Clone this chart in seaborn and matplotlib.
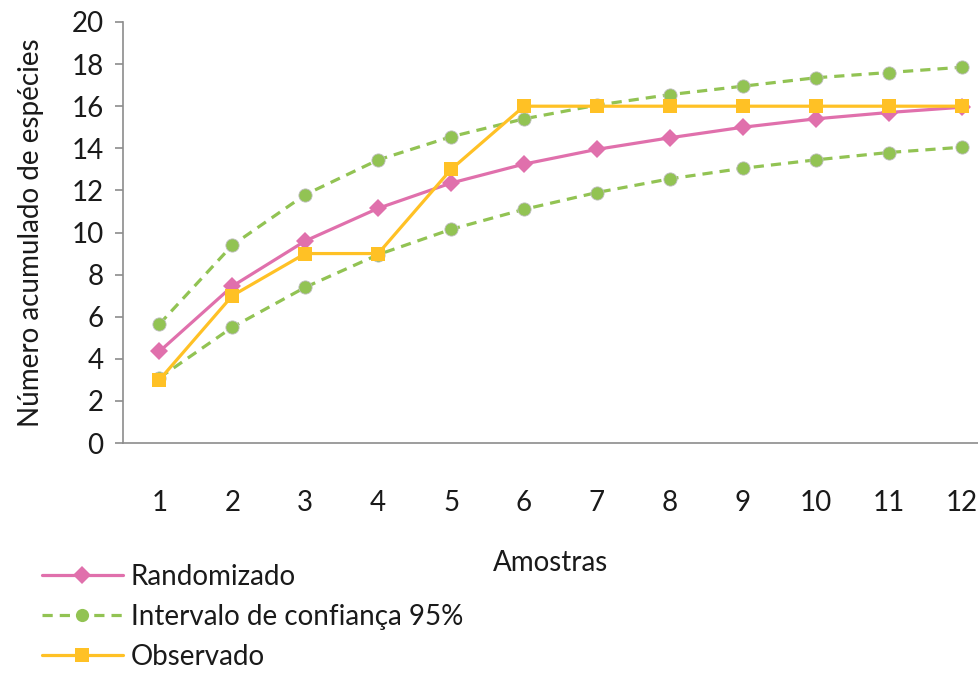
import matplotlib
matplotlib.use("Agg")
import matplotlib.pyplot as plt
import seaborn as sns
import pandas as pd
from matplotlib.lines import Line2D

amostras = [1, 2, 3, 4, 5, 6, 7, 8, 9, 10, 11, 12]
randomizado = [4.35, 7.45, 9.6, 11.15, 12.35, 13.25, 13.95, 14.5, 15.0, 15.4, 15.7, 15.95]
ic_superior = [5.65, 9.4, 11.8, 13.45, 14.55, 15.4, 16.05, 16.55, 16.95, 17.35, 17.6, 17.85]
ic_inferior = [3.1, 5.5, 7.4, 8.95, 10.15, 11.1, 11.9, 12.55, 13.05, 13.45, 13.8, 14.05]
observado = [3, 7, 9, 9, 13, 16, 16, 16, 16, 16, 16, 16]
y_ticks = [0, 2, 4, 6, 8, 10, 12, 14, 16, 18, 20]

PINK = "#E070AC"
GREEN = "#92C353"
GOLD = "#FFC125"
AXIS = "#8C8C8C"
TEXT = "#1A1A1A"
FS = 20

sns.set_theme(style="white")
plt.rcParams["font.family"] = ["Lato", "DejaVu Sans"]

fig = plt.figure(figsize=(9.79, 6.78), dpi=100)
ax = fig.add_axes([123 / 979, 1 - 443 / 678, 1 - 123 / 979, (443 - 22) / 678])

df = pd.DataFrame({"x": amostras, "rand": randomizado, "sup": ic_superior,
                   "inf": ic_inferior, "obs": observado})

for col in ["sup", "inf"]:
    sns.lineplot(data=df, x="x", y=col, ax=ax, color=GREEN, linewidth=2.3,
                 linestyle=(0, (3.2, 2.2)), marker="o", markersize=9.5,
                 markeredgewidth=0.6, markeredgecolor="#BDBDBD", zorder=2)
sns.lineplot(data=df, x="x", y="rand", ax=ax, color=PINK, linewidth=2.3,
             marker="D", markersize=9, markeredgewidth=0, zorder=3)
sns.lineplot(data=df, x="x", y="obs", ax=ax, color=GOLD, linewidth=2.3,
             marker="s", markersize=10, markeredgewidth=0, zorder=4)

ax.set_xlim(0.5, 12.24)
ax.set_ylim(0, 20)
ax.set_xticks(amostras)
ax.set_xticklabels([str(a) for a in amostras])
ax.set_yticks(y_ticks)
ax.set_yticklabels([str(t) for t in y_ticks])

for s in ["top", "right"]:
    ax.spines[s].set_visible(False)
for s in ["left", "bottom"]:
    ax.spines[s].set_color(AXIS)
    ax.spines[s].set_linewidth(1.2)

ax.tick_params(axis="y", which="both", left=True, length=6, width=1.2,
               color=AXIS, labelsize=FS, labelcolor=TEXT, pad=8)
ax.tick_params(axis="x", which="both", bottom=False, labelsize=FS,
               labelcolor=TEXT, pad=28)

ax.set_xlabel("Amostras", fontsize=FS, color=TEXT, labelpad=24)
ax.set_ylabel("Número acumulado de espécies", fontsize=FS, color=TEXT, labelpad=20)

handles = [
    Line2D([], [], color=PINK, linewidth=2.3, marker="D", markersize=9, markeredgewidth=0),
    Line2D([], [], color=GREEN, linewidth=2.3, linestyle=(0, (3.2, 2.2)), marker="o",
           markersize=9.5, markeredgewidth=0),
    Line2D([], [], color=GOLD, linewidth=2.3, marker="s", markersize=10, markeredgewidth=0),
]
labels = ["Randomizado", "Intervalo de confiança 95%", "Observado"]
fig.legend(handles, labels, loc="upper left", bbox_to_anchor=(42 / 979, 1 - 564 / 678),
           frameon=False, fontsize=FS, handlelength=2.9, handletextpad=0.3,
           labelspacing=0.5, borderaxespad=0, borderpad=0, labelcolor=TEXT)

fig.savefig("out.png", dpi=100)
